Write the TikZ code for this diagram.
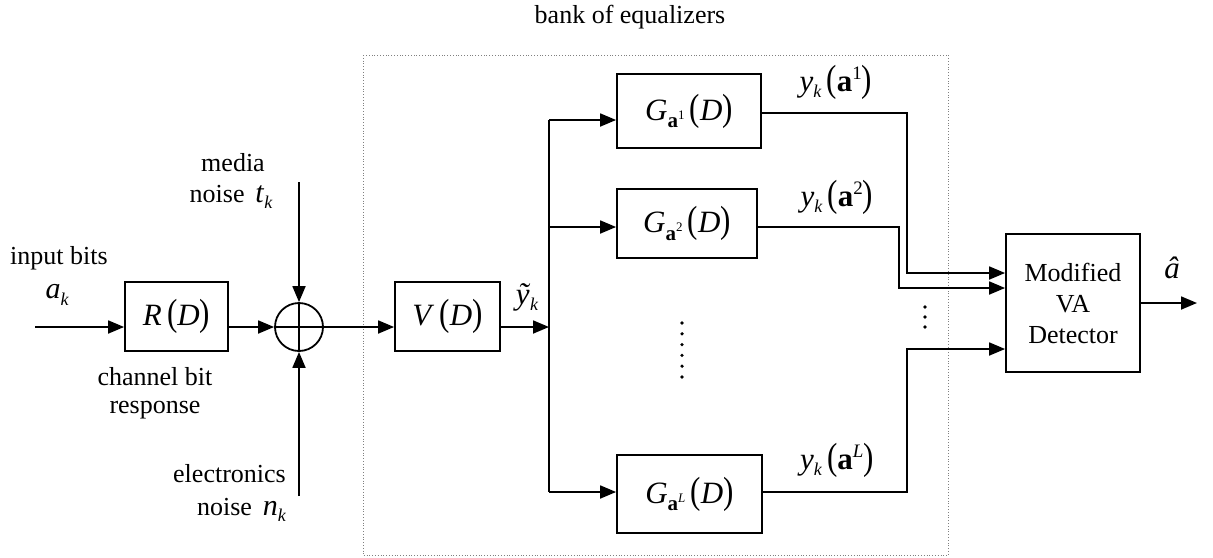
\documentclass[tikz,border=0pt]{standalone}
\usepackage{fontspec}
\setmainfont{Liberation Serif}
\usetikzlibrary{arrows.meta}
\newcommand\lbl{\fontsize{26}{31}\selectfont}
\newcommand\mth{\fontsize{31}{31}\selectfont}
\newcommand\bp[1]{\scalebox{1}[1.22]{#1}}
\newcommand\lsb[1]{\raisebox{-0.22em}{\fontsize{18}{18}\selectfont\itshape #1}}
\newcommand\lsp[1]{\raisebox{0.38em}{\fontsize{19}{19}\selectfont #1}}
\newcommand\gsb[1]{\raisebox{-0.25em}{\fontsize{21}{21}\selectfont\textbf{a}\raisebox{0.4em}{\fontsize{13}{13}\selectfont #1}}}
\newcommand\yka[1]{\textit{y}\lsb{k}\,\bp{(}\textbf{a}\lsp{#1}\bp{)}}
\newcommand\Gka[1]{\textit{G}\gsb{#1}\,\bp{(}\textit{D}\bp{)}}
\begin{document}
\begin{tikzpicture}[x=1pt,y=-1pt,
  blk/.style={draw,line width=1.8pt,inner sep=0pt,font=\mth},
  arr/.style={line width=1.8pt,-{Triangle[length=16pt,width=13pt]}},
  ln/.style={line width=1.8pt},
  txt/.style={font=\lbl,inner sep=0pt}]
\useasboundingbox (0,0) rectangle (1213,557);
% bank of equalizers frame
\draw[gray,dotted,line width=0.8pt] (363,55) rectangle (948,555.5);
\node[txt] (bank) at (630,17) {bank of equalizers};
% blocks
\node[blk,minimum width=103pt,minimum height=69pt] (R) at (176.5,316.5) {\textit{R}\,\bp{(}\textit{D}\bp{)}};
\node[draw,circle,line width=1.8pt,minimum size=48pt,inner sep=0pt] (S) at (299,327) {};
\draw[ln] (S.north) -- (S.south);
\draw[ln] (S.west) -- (S.east);
\node[blk,minimum width=105pt,minimum height=69pt] (V) at (447.5,316.5) {\textit{V}\,\bp{(}\textit{D}\bp{)}};
\node[blk,minimum width=144pt,minimum height=74pt] (G1) at (689,111) {\Gka{1}};
\node[blk,minimum width=140pt,minimum height=69pt] (G2) at (687,223.5) {\Gka{2}};
\node[blk,minimum width=145pt,minimum height=78pt] (GL) at (689.5,494) {\Gka{\textit{L}}};
\node[blk,minimum width=134pt,minimum height=138pt,font=\lbl,align=center] (Det) at (1073,303) {Modified\\VA\\Detector};
% coordinates
\coordinate (in) at (35,327);
\coordinate (mn) at (299,182);
\coordinate (en) at (299,496);
\coordinate (sp) at (549,327);
\coordinate (spT) at (549,120);
\coordinate (sp2) at (549,227);
\coordinate (spB) at (549,492);
\coordinate (o1) at (907,113);
\coordinate (d1) at (907,273);
\coordinate (o2) at (899,227);
\coordinate (d2) at (899,288);
\coordinate (oL) at (907,492);
\coordinate (dL) at (907,349);
\coordinate (out) at (1197,303);
% connectors
\draw[arr] (in) -- (R.west |- in);
\draw[arr] (R.east |- in) -- (S.west);
\draw[arr] (mn) -- (S.north);
\draw[arr] (en) -- (S.south);
\draw[arr] (S.east) -- (V.west |- S.east);
\draw[arr] (V.east |- sp) -- (sp);
\draw[ln] (spT) -- (spB);
\draw[arr] (spT) -- (G1.west |- spT);
\draw[arr] (sp2) -- (G2.west |- sp2);
\draw[arr] (spB) -- (GL.west |- spB);
\draw[arr] (G1.east |- o1) -- (o1) -- (d1) -- (Det.west |- d1);
\draw[arr] (G2.east |- o2) -- (o2) -- (d2) -- (Det.west |- d2);
\draw[arr] (GL.east |- oL) -- (oL) -- (dL) -- (Det.west |- dL);
\draw[arr] (Det.east) -- (out);
% dots
\foreach \i in {0,...,5} \fill (682,323+\i*10.8) circle (1.8);
\foreach \i in {0,...,2} \fill (925,307+\i*10) circle (1.8);
% labels
\node[txt] (ib) at (59,258) {input bits};
\node[txt] (ak) at (57,295) {\fontsize{30}{30}\selectfont\textit{a}\lsb{k}};
\node[txt] (md) at (233,163) {media};
\node[txt] (nt) at (231,197) {noise \,\fontsize{30}{30}\selectfont\textit{t}\lsb{k}};
\node[txt] (cb) at (155,377) {channel bit};
\node[txt] (rs) at (155,410) {response};
\node[txt,anchor=east] (el) at (286,474) {electronics};
\node[txt,anchor=east] (nn) at (286,510) {noise \,\fontsize{30}{30}\selectfont\textit{n}\lsb{k}};
\node[txt,font=\mth] (yt) at (527,297) {\textit{ỹ}\lsb{k}};
\node[txt,font=\mth] (y1) at (836,82) {\yka{1}};
\node[txt,font=\mth] (y2) at (837,197) {\yka{2}};
\node[txt,font=\mth] (yL) at (837,460) {\yka{\textit{L}}};
\node[txt,font=\mth] (ah) at (1172,268) {\textit{â}};
\end{tikzpicture}
\end{document}
